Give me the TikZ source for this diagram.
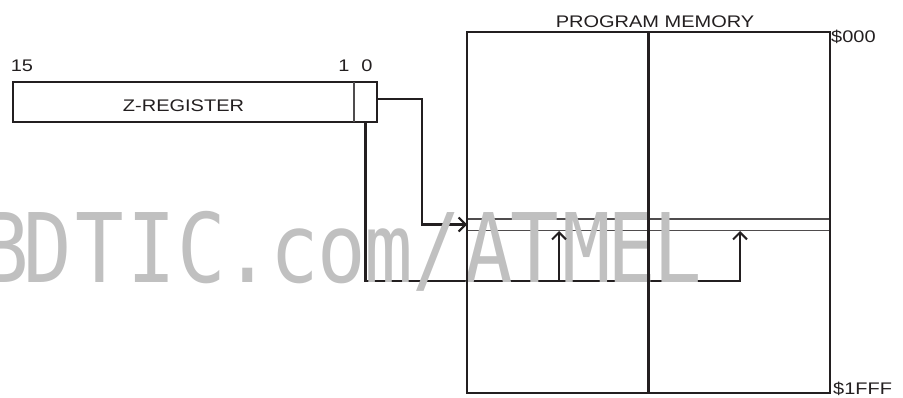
\documentclass[tikz,border=0pt]{standalone}
\usepackage{fontspec}
\setmainfont{Liberation Sans}[FakeStretch=1.19]
\newfontfamily\wmfont{DejaVu Sans Mono}
\usetikzlibrary{arrows.meta}
\definecolor{ink}{RGB}{35,31,32}
\definecolor{wm}{RGB}{192,192,192}
\tikzset{
  lbl/.style={inner sep=0pt, font=\fontsize{16.8}{18}\selectfont, text=ink},
  frame line/.style={line width=2.4pt, draw=ink},
  fine line/.style={line width=1.1pt, draw=ink!80},
  conn/.style={line width=2.3pt, draw=ink},
  tip/.style={-{Straight Barb[length=7pt,width=14pt,line width=2pt]}},
  cell/.style={inner sep=0pt, outer sep=0pt, minimum height=40pt},
  wmch/.style={anchor=base, inner sep=0pt, text=wm, font=\wmfont\fontsize{96}{96}\selectfont, xscale=0.84, transform shape}
}
\begin{document}
\begin{tikzpicture}[x=1pt,y=-1pt]
\useasboundingbox (0,0) rectangle (903,398);
% Z-register
\node[cell, minimum width=341pt, anchor=north west] (zmain) at (13,82) {};
\node[cell, minimum width=23pt, anchor=north west] (bit0) at (354,82) {};
\node[lbl, anchor=base] (ztext) at (183.5,111.5) {Z-REGISTER};
\draw[frame line] (zmain.north west) rectangle (bit0.south east);
\draw[fine line] (bit0.north west) -- (bit0.south west);
\node[lbl, anchor=base] (n15) at (22,72) {15};
\node[lbl, anchor=base] (n1) at (344,72) {1};
\node[lbl, anchor=base] (n0) at (367,72) {0};
% program memory
\node[inner sep=0pt, outer sep=0pt, minimum width=363pt, minimum height=361pt, anchor=north west] (mem) at (467,32) {};
\draw[fine line] (mem.west |- 0,219) -- (mem.east |- 0,219);
\draw[fine line] (mem.west |- 0,230.5) -- (mem.east |- 0,230.5);
\node[lbl, anchor=base] (pmtitle) at (655,27.3) {PROGRAM MEMORY};
\node[lbl, anchor=base west] (top) at (831,42.5) {\$000};
\node[lbl, anchor=base west] (bot) at (833,394) {\$1FFF};
% connectors
\coordinate (ain) at (mem.west |- 0,224.5);
\coordinate (bend) at (422,224.5);
\coordinate (j1) at (559,281);
\coordinate (t1) at (559,231);
\coordinate (j2) at (740,281);
\coordinate (t2) at (740,231);
\draw[conn, tip] (bit0.east |- 0,99) -| (bend) -- (ain);
\draw[conn, tip] (bit0.south) |- (j2) -- (t2);
% watermark, letter by letter
\begin{scope}[y=1pt]
\node[wmch] (w1) at (5,-283) {B};
\node[wmch] (w2) at (47.5,-283) {D};
\node[wmch] (w3) at (99.5,-283) {T};
\node[wmch] (w4) at (152,-283) {I};
\node[wmch] (w5) at (202,-283) {C};
\node[wmch] (w6) at (248,-283) {.};
\node[wmch] (w7) at (295,-283) {c};
\node[wmch] (w8) at (341.5,-283) {o};
\node[wmch] (w9) at (388.5,-283) {m};
\node[wmch] (w10) at (437,-283) {/};
\node[wmch] (w11) at (488.5,-283) {A};
\node[wmch] (w12) at (535,-283) {T};
\node[wmch] (w13) at (586.5,-283) {M};
\node[wmch] (w14) at (631.5,-283) {E};
\node[wmch] (w15) at (677.5,-283) {L};
\end{scope}
% branch arrow drawn above the watermark
\draw[conn, tip] (j1) -- (t1);
% memory frame on top
\draw[frame line] (mem.north) -- (mem.south);
\draw[frame line] (mem.north west) rectangle (mem.south east);
\end{tikzpicture}
\end{document}
